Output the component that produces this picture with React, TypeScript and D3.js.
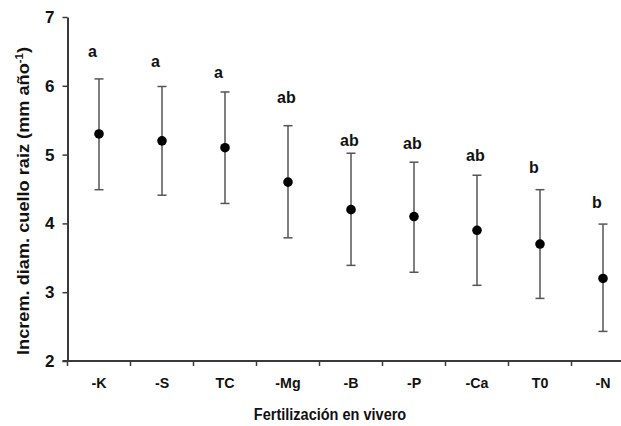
import React, { useEffect, useRef } from "react";
import * as d3 from "d3";

const categories = ["-K", "-S", "TC", "-Mg", "-B", "-P", "-Ca", "T0", "-N"];
const means = [5.3, 5.2, 5.1, 4.6, 4.2, 4.1, 3.9, 3.7, 3.2];
const upper = [6.1, 5.99, 5.91, 5.42, 5.02, 4.89, 4.7, 4.49, 3.99];
const lower = [4.49, 4.41, 4.29, 3.79, 3.39, 3.29, 3.1, 2.91, 2.43];
const groups = ["a", "a", "a", "ab", "ab", "ab", "ab", "b", "b"];
// baseline of the letter, in data units
const groupY = [6.42, 6.28, 6.12, 5.75, 5.13, 5.08, 4.91, 4.73, 4.22];
const yTicks = [2, 3, 4, 5, 6, 7];

const W = 621;
const H = 426;
const font = "Liberation Sans, Arial, sans-serif";
// the source picture is a bit squeezed sideways
const squeeze = 0.88;

function draw(ref: SVGSVGElement) {
	const svg = d3.select(ref).attr("width", W).attr("height", H);
	svg.selectAll("*").remove();

	const left = 67.5;
	const band = 63;
	const x = d3
		.scaleBand<string>()
		.domain(categories)
		.range([left, left + band * categories.length])
		.padding(0);
	const y = d3.scaleLinear().domain([2, 7]).range([361, 17]);
	const axisColor = "#3a3a3a";

	// y axis
	const yAxis = svg
		.append("g")
		.attr("transform", `translate(${left},0)`)
		.call(d3.axisLeft(y).tickValues(yTicks).tickSize(5).tickSizeOuter(0).tickPadding(8).tickFormat(d3.format("d")));
	yAxis.select(".domain").attr("stroke", axisColor).attr("stroke-width", 2);
	yAxis.selectAll(".tick line").attr("stroke", axisColor).attr("stroke-width", 1.5);
	yAxis
		.selectAll(".tick text")
		.attr("font-family", font)
		.attr("font-size", 17)
		.attr("font-weight", "bold")
		.attr("fill", "#111");

	// x axis
	const x0 = y(2);
	svg
		.append("line")
		.attr("x1", left - 5)
		.attr("x2", W)
		.attr("y1", x0)
		.attr("y2", x0)
		.attr("stroke", axisColor)
		.attr("stroke-width", 2);
	svg
		.append("g")
		.selectAll("line")
		.data(categories)
		.enter()
		.append("line")
		.attr("x1", (d) => x(d)!)
		.attr("x2", (d) => x(d)!)
		.attr("y1", x0)
		.attr("y2", x0 + 5)
		.attr("stroke", axisColor)
		.attr("stroke-width", 1.5);
	svg
		.append("g")
		.selectAll("text")
		.data(categories)
		.enter()
		.append("text")
		.attr("transform", (d) => `translate(${x(d)! + x.bandwidth() / 2},388) scale(0.95,1)`)
		.attr("text-anchor", "middle")
		.attr("font-family", font)
		.attr("font-size", 15)
		.attr("font-weight", "bold")
		.attr("fill", "#111")
		.text((d) => d);

	// axis titles
	svg
		.append("text")
		.attr("transform", `translate(330,420) scale(${squeeze},1)`)
		.attr("text-anchor", "middle")
		.attr("font-family", font)
		.attr("font-size", 16.5)
		.attr("font-weight", "bold")
		.attr("fill", "#111")
		.text("Fertilización en vivero");
	const yt = svg
		.append("text")
		.attr("transform", `translate(29,201) rotate(-90) scale(${1 / squeeze},1)`)
		.attr("text-anchor", "middle")
		.attr("font-family", font)
		.attr("font-size", 16)
		.attr("font-weight", "bold")
		.attr("fill", "#111");
	yt.append("tspan").text("Increm. diam. cuello raiz (mm año");
	yt.append("tspan").attr("dy", -6).attr("font-size", 10).text("-1");
	yt.append("tspan").attr("dy", 6).text(")");

	const cx = (i: number) => x(categories[i])! + x.bandwidth() / 2;
	const idx = categories.map((_, i) => i);
	const bars = svg.append("g");
	const barColor = "#555";
	// whiskers
	bars
		.selectAll(".stem")
		.data(idx)
		.enter()
		.append("line")
		.attr("x1", cx)
		.attr("x2", cx)
		.attr("y1", (i) => y(upper[i]))
		.attr("y2", (i) => y(lower[i]))
		.attr("stroke", barColor)
		.attr("stroke-width", 1.5);
	bars
		.selectAll(".capU")
		.data(idx)
		.enter()
		.append("line")
		.attr("x1", (i) => cx(i) - 4.5)
		.attr("x2", (i) => cx(i) + 4.5)
		.attr("y1", (i) => y(upper[i]))
		.attr("y2", (i) => y(upper[i]))
		.attr("stroke", barColor)
		.attr("stroke-width", 1.5);
	bars
		.selectAll(".capL")
		.data(idx)
		.enter()
		.append("line")
		.attr("x1", (i) => cx(i) - 4.5)
		.attr("x2", (i) => cx(i) + 4.5)
		.attr("y1", (i) => y(lower[i]))
		.attr("y2", (i) => y(lower[i]))
		.attr("stroke", barColor)
		.attr("stroke-width", 1.5);
	// means
	bars
		.selectAll("circle")
		.data(idx)
		.enter()
		.append("circle")
		.attr("cx", cx)
		.attr("cy", (i) => y(means[i]))
		.attr("r", 4.8)
		.attr("fill", "#000");
	// letters
	bars
		.selectAll("text")
		.data(idx)
		.enter()
		.append("text")
		.attr("x", (i) => cx(i) - 11)
		.attr("y", (i) => y(groupY[i]))
		.attr("font-family", font)
		.attr("font-size", 16)
		.attr("font-weight", "bold")
		.attr("fill", "#111")
		.text((i) => groups[i]);
}

export default function App() {
	const ref = useRef<SVGSVGElement>(null);
	useEffect(() => {
		if (!ref.current) return;
		draw(ref.current);
	}, []);
	return (
		<svg
			ref={ref}
			style={{ position: "absolute", left: 0, top: 0, display: "block", background: "#fff" }}
		/>
	);
}
